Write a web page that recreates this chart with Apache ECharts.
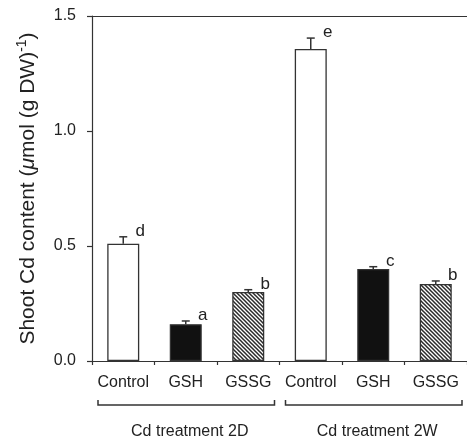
<!DOCTYPE html>
<html>
<head>
<meta charset="utf-8">
<script src="https://cdn.jsdelivr.net/npm/echarts@6/dist/echarts.min.js"></script>
<style>
  html, body { margin: 0; background: #fff; }
  #main { width: 467px; height: 439px; }
</style>
</head>
<body>
<div id="main"></div>
<script>
// data
const categories = ['Control', 'GSH', 'GSSG', 'Control', 'GSH', 'GSSG']
const groups = ['Cd treatment 2D', 'Cd treatment 2W']
const groupMembers = [[0, 2], [3, 5]]
const values = [0.51, 0.16, 0.30, 1.357, 0.40, 0.335]
const errors = [0.03, 0.014, 0.01, 0.047, 0.01, 0.013]
const letters = ['d', 'a', 'b', 'e', 'c', 'b']
const yTicks = [0, 0.5, 1.0, 1.5]

const font = "'Liberation Sans', Arial, sans-serif"
const ink = '#222'
const lineColor = '#333'

// diagonal hatch for GSSG bars
function makeHatch() {
  const s = 4
  const c = document.createElement('canvas')
  c.width = s
  c.height = s
  const ctx = c.getContext('2d')
  ctx.fillStyle = '#fff'
  ctx.fillRect(0, 0, s, s)
  ctx.strokeStyle = '#2a2a2a'
  ctx.lineWidth = 1.5
  ctx.beginPath()
  ctx.moveTo(-1, -1); ctx.lineTo(s + 1, s + 1)
  ctx.moveTo(-1, s - 1); ctx.lineTo(1, s + 1)
  ctx.moveTo(s - 1, -1); ctx.lineTo(s + 1, 1)
  ctx.stroke()
  return { image: c, repeat: 'repeat' }
}

const fills = {
  Control: '#fff',
  GSH: '#111',
  GSSG: makeHatch()
}

const chart = echarts.init(document.getElementById('main'), null, { renderer: 'canvas' })

chart.setOption({
  animation: false,
  backgroundColor: '#fff',
  textStyle: { fontFamily: font },
  grid: { left: 92, right: -4, top: 16, bottom: 78 },
  xAxis: [{
    type: 'category',
    data: categories,
    boundaryGap: true,
    axisLine: { lineStyle: { color: lineColor, width: 1.2 } },
    axisTick: { show: true, length: 4, lineStyle: { color: lineColor, width: 1.2 } },
    axisLabel: { interval: 0, margin: 14, fontSize: 16, color: ink, fontFamily: font }
  }, {
    type: 'category',
    position: 'top',
    data: categories,
    axisLine: { lineStyle: { color: lineColor, width: 1.2 } },
    axisTick: { show: false },
    axisLabel: { show: false }
  }],
  yAxis: {
    type: 'value',
    min: yTicks[0],
    max: yTicks[yTicks.length - 1],
    interval: 0.5,
    axisLine: { show: true, lineStyle: { color: lineColor, width: 1.2 } },
    axisTick: { show: true, length: 5, lineStyle: { color: lineColor, width: 1.2 } },
    splitLine: { show: false },
    axisLabel: {
      margin: 16, fontSize: 16, color: ink, fontFamily: font,
      formatter: v => v.toFixed(1)
    },
    name: '{a|Shoot Cd content (}{i|μ}{a|mol (g DW)}{s|-1}{a|)}',
    nameLocation: 'middle',
    nameRotate: 90,
    nameGap: 51,
    nameTextStyle: {
      rich: {
        a: { fontSize: 21, color: ink, fontFamily: font, lineHeight: 26 },
        i: { fontSize: 21, color: ink, fontFamily: font, fontStyle: 'italic', lineHeight: 26 },
        s: { fontSize: 14, color: ink, fontFamily: font, verticalAlign: 'top', lineHeight: 26 }
      }
    }
  },
  series: [{
    type: 'bar',
    barWidth: 32,
    data: values.map((v, i) => ({ value: v, itemStyle: { color: fills[categories[i]] } })),
    itemStyle: { borderColor: lineColor, borderWidth: 1.3 }
  }, {
    type: 'custom',
    data: values.map((v, i) => [i, v, errors[i]]),
    z: 5,
    renderItem(params, api) {
      const base = api.coord([api.value(0), api.value(1)])
      const top = api.coord([api.value(0), api.value(1) + api.value(2)])
      const half = 4
      const st = { stroke: lineColor, lineWidth: 1.5 }
      return {
        type: 'group',
        children: [
          { type: 'line', shape: { x1: base[0], y1: base[1], x2: top[0], y2: top[1] }, style: st },
          { type: 'line', shape: { x1: top[0] - half, y1: top[1], x2: top[0] + half, y2: top[1] }, style: st },
          {
            type: 'text',
            x: top[0] + 17,
            y: top[1] + 3,
            style: {
              text: letters[params.dataIndex],
              font: '17px ' + font,
              fill: ink,
              align: 'center',
              verticalAlign: 'bottom'
            }
          }
        ]
      }
    }
  }]
})

// group brackets under the category labels
const px = i => chart.convertToPixel({ xAxisIndex: 0 }, i)
const bw = px(1) - px(0)
const bracketY = 405
const graphics = []
groupMembers.forEach((m, g) => {
  const x1 = px(m[0]) - bw / 2 + 6
  const x2 = px(m[1]) + bw / 2 - 5
  graphics.push({
    type: 'polyline',
    shape: { points: [[x1, bracketY - 5], [x1, bracketY], [x2, bracketY], [x2, bracketY - 5]] },
    style: { stroke: lineColor, lineWidth: 1.5, fill: null }
  })
  graphics.push({
    type: 'text',
    x: (px(m[0]) + px(m[1])) / 2 + 4,
    y: 432,
    style: { text: groups[g], font: '16px ' + font, fill: ink, align: 'center', verticalAlign: 'middle' }
  })
})
chart.setOption({ graphic: graphics })
</script>
</body>
</html>
